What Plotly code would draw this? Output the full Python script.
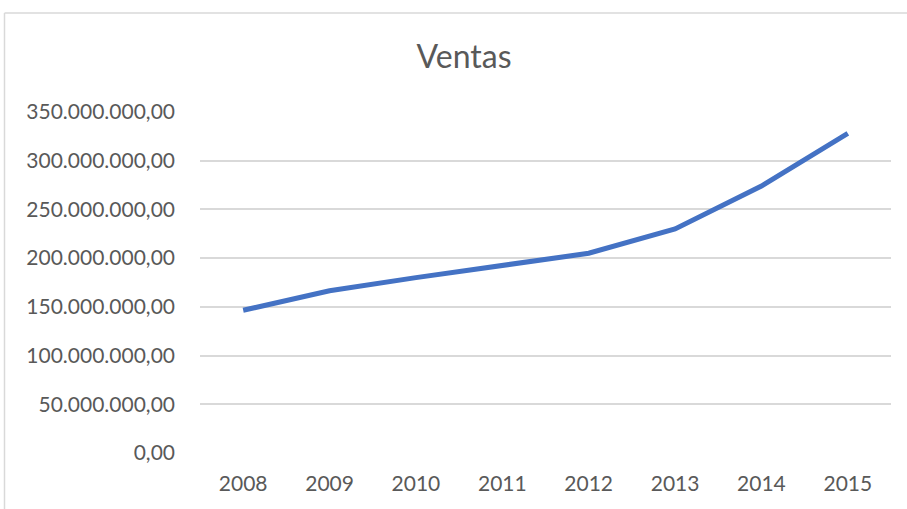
import plotly.graph_objects as go

years = ["2008", "2009", "2010", "2011", "2012", "2013", "2014", "2015"]
ventas = [146500000, 166500000, 180000000, 192000000, 205000000, 230000000, 274000000, 328000000]
y_ticks = [0, 50000000, 100000000, 150000000, 200000000, 250000000, 300000000, 350000000]

FONT = "Lato"
GRAY = "#595959"

fig = go.Figure(go.Scatter(
    x=years, y=ventas, mode="lines",
    line=dict(color="#4472C4", width=5),
    hoverinfo="x+y",
))

L, R, T, B = 200, 16, 112, 56
W, H = 907, 509
pw = W - L - R
ph = H - T - B
bx = (4.5 - L) / pw
by = (H - B - 13) / ph

fig.update_layout(
    width=W, height=H,
    margin=dict(l=L, r=R, t=T, b=B),
    paper_bgcolor="white", plot_bgcolor="white",
    separators=",.",
    showlegend=False,
    title=dict(text="Ventas", x=464 / W, xanchor="center", y=1 - 57 / H, yanchor="middle",
               font=dict(family=FONT, size=32, color=GRAY)),
    font=dict(family=FONT, size=21, color=GRAY),
    xaxis=dict(range=[-0.5, 7.5], showgrid=False, showline=False, zeroline=False, ticks="",
               ticklabelstandoff=16, tickfont=dict(size=21, color=GRAY)),
    yaxis=dict(range=[0, 350000000], tickvals=y_ticks, tickformat=",.2f",
               showgrid=True, gridcolor="#D9D9D9", gridwidth=1.5,
               zeroline=False, showline=False, ticks="",
               ticklabelstandoff=24, tickfont=dict(size=21, color=GRAY)),
    shapes=[
        dict(type="line", xref="paper", yref="paper", x0=bx, x1=bx, y0=by, y1=-0.5,
             line=dict(color="#D9D9D9", width=1.5)),
        dict(type="line", xref="paper", yref="paper", x0=bx, x1=1.2, y0=by, y1=by,
             line=dict(color="#D9D9D9", width=1.5)),
    ],
)

fig.write_html("out.html", config={"displayModeBar": False},
               post_script="document.body.style.margin='0';document.body.style.overflow='hidden';")
